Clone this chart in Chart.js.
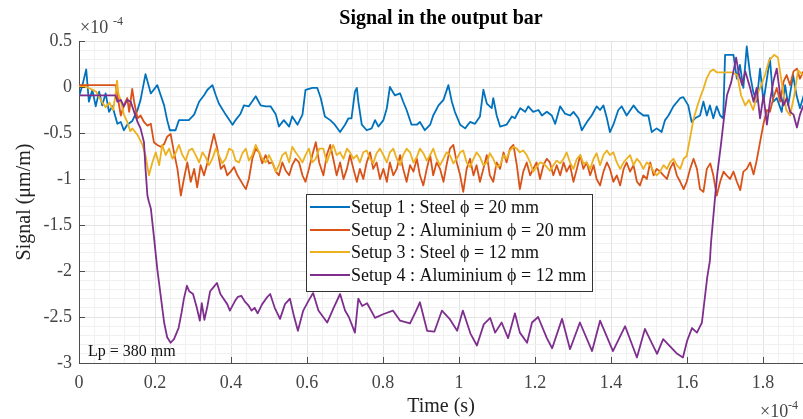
<!DOCTYPE html>
<html>
<head>
<meta charset="utf-8">
<script src="https://cdn.jsdelivr.net/npm/chart.js@4"></script>
<style>
  body { margin: 0; background: #fff; }
  canvas { display: block; }
</style>
</head>
<body>
<canvas id="signalChart" width="803" height="419"></canvas>
<script>
// time values are in units of 1e-4 s, signal in units of 1e-4 um/m
const setup1 = [
  [0,-0.1],[0.009,0.02],[0.019,0.19],[0.026,-0.16],[0.035,-0.03],[0.044,-0.21],[0.053,-0.05],[0.061,-0.2],[0.07,-0.07],[0.079,-0.27],
  [0.088,-0.21],[0.101,-0.4],[0.11,-0.38],[0.118,-0.47],[0.127,-0.41],[0.14,-0.37],[0.154,-0.25],[0.162,-0.14],[0.175,0.14],[0.189,-0.07],
  [0.206,0.02],[0.215,-0.09],[0.224,-0.2],[0.232,-0.36],[0.239,-0.47],[0.254,-0.47],[0.263,-0.36],[0.289,-0.36],[0.303,-0.3],[0.316,-0.16],
  [0.329,-0.09],[0.338,-0.03],[0.351,0.02],[0.36,-0.09],[0.368,-0.18],[0.386,-0.3],[0.404,-0.41],[0.412,-0.36],[0.425,-0.29],[0.434,-0.2],
  [0.447,-0.21],[0.465,-0.1],[0.478,-0.2],[0.491,-0.21],[0.504,-0.21],[0.518,-0.3],[0.526,-0.43],[0.539,-0.36],[0.553,-0.43],[0.561,-0.32],
  [0.575,-0.41],[0.588,-0.3],[0.596,-0.03],[0.614,-0.01],[0.627,-0.01],[0.636,-0.12],
  [0.647,-0.32],[0.661,-0.36],[0.673,-0.41],[0.687,-0.49],[0.7,-0.41],[0.709,-0.34],[0.717,-0.34],[0.726,-0.05],[0.731,-0.01],[0.735,-0.16],
  [0.744,-0.41],[0.757,-0.47],[0.77,-0.45],[0.779,-0.36],[0.788,-0.43],[0.801,-0.36],[0.81,-0.23],[0.818,0],[0.831,-0.09],[0.845,-0.07],
  [0.853,-0.16],[0.862,-0.25],[0.875,-0.41],[0.889,-0.41],[0.897,-0.38],[0.91,-0.47],[0.924,-0.41],[0.932,-0.31],[0.946,-0.2],[0.959,-0.14],
  [0.972,0.02],[0.981,-0.16],[0.989,-0.27],[1.003,-0.41],[1.016,-0.45],[1.029,-0.38],[1.042,-0.4],[1.055,-0.32],[1.064,-0.03],[1.073,-0.18],
  [1.086,-0.23],[1.09,-0.12],[1.099,-0.31],[1.108,-0.43],[1.125,-0.41],[1.139,-0.32],[1.147,-0.34],[1.161,-0.23],[1.174,-0.27],[1.182,-0.21],
  [1.195,-0.27],[1.209,-0.25],[1.218,-0.31],[1.231,-0.27],[1.244,-0.31],[1.253,-0.4],[1.266,-0.21],
  [1.279,-0.29],[1.292,-0.31],[1.301,-0.27],[1.314,-0.34],[1.323,-0.47],[1.332,-0.41],[1.34,-0.36],[1.349,-0.31],[1.362,-0.21],[1.371,-0.25],
  [1.38,-0.2],[1.389,-0.34],[1.397,-0.49],[1.406,-0.41],[1.419,-0.25],[1.428,-0.21],[1.441,-0.31],[1.459,-0.2],[1.472,-0.27],[1.485,-0.31],
  [1.498,-0.31],[1.507,-0.49],[1.52,-0.45],[1.533,-0.49],[1.542,-0.36],[1.551,-0.31],[1.564,-0.21],[1.582,-0.12],[1.59,-0.11],[1.603,-0.2],
  [1.612,-0.38],[1.621,-0.34],[1.634,-0.31],[1.643,-0.16],[1.652,-0.31],[1.66,-0.2],[1.669,-0.34],[1.678,-0.21],[1.687,-0.31],[1.695,-0.34],
  [1.7,0.35],[1.722,0.35],[1.731,0.09],[1.739,0.24],[1.748,-0.01],[1.757,0.44],[1.766,0.13],[1.774,-0.05],[1.783,-0.16],[1.792,0.2],
  [1.801,-0.16],[1.809,0.06],[1.818,0.31],[1.827,-0.16],[1.836,-0.12],[1.849,-0.27],[1.858,0.02],[1.866,-0.2],[1.879,0.13],[1.888,-0.09],
  [1.897,-0.23],[1.91,-0.05]
];
const setup2 = [
  [0,0.02],[0.096,0.02],[0.101,-0.09],[0.11,-0.31],[0.118,-0.2],[0.127,-0.12],[0.132,-0.27],[0.14,-0.02],[0.145,-0.16],[0.154,-0.34],
  [0.162,-0.31],[0.171,-0.38],[0.18,-0.42],[0.189,-0.4],[0.197,-0.6],[0.206,-0.63],[0.215,-0.65],[0.224,-0.62],[0.232,-0.54],[0.241,-0.51],
  [0.25,-0.71],[0.259,-0.89],[0.268,-1.18],[0.276,-1],[0.285,-0.82],[0.294,-1.03],[0.303,-0.89],[0.311,-1.09],[0.32,-0.85],[0.329,-0.96],
  [0.338,-0.82],[0.346,-0.67],[0.355,-0.51],[0.364,-0.67],[0.373,-0.89],[0.382,-0.85],[0.39,-0.96],[0.399,-0.92],[0.408,-0.87],[0.417,-0.96],
  [0.43,-1.05],[0.439,-1.11],[0.447,-1],[0.456,-0.78],[0.465,-0.67],[0.474,-0.71],[0.482,-0.83],[0.491,-0.74],[0.5,-0.83],[0.509,-0.82],
  [0.518,-0.92],[0.526,-0.96],[0.535,-0.82],[0.544,-0.91],[0.553,-0.96],[0.561,-0.85],[0.57,-0.78],[0.579,-0.82],[0.588,-0.96],[0.596,-1.03],
  [0.605,-0.89],[0.614,-0.74],[0.623,-0.6],[0.632,-0.82],
  [0.643,-0.96],[0.652,-0.74],[0.661,-0.63],[0.669,-0.78],[0.678,-0.96],[0.687,-0.82],[0.696,-1],[0.705,-0.89],[0.713,-0.74],[0.722,-0.89],
  [0.731,-1.03],[0.739,-0.89],[0.748,-1],[0.757,-0.82],[0.766,-0.71],[0.774,-0.89],[0.783,-0.82],[0.792,-1],[0.801,-0.89],[0.81,-1.03],
  [0.818,-0.82],[0.827,-0.96],[0.836,-0.89],[0.845,-0.74],[0.853,-0.89],[0.862,-1.03],[0.871,-0.85],[0.88,-0.92],[0.889,-0.78],[0.897,-0.96],
  [0.906,-1.07],[0.915,-0.89],[0.924,-0.74],[0.932,-0.96],[0.941,-0.82],[0.95,-0.89],[0.959,-1.03],[0.967,-0.85],[0.976,-0.67],[0.985,-0.63],
  [0.994,-0.82],[1.003,-0.96],[1.011,-1.14],[1.02,-0.89],[1.029,-0.78],[1.038,-0.96],[1.046,-0.85],[1.055,-1.03],[1.064,-0.89],[1.073,-0.74],
  [1.081,-0.96],[1.09,-1.03],[1.099,-0.82],[1.108,-0.89],[1.117,-0.71],[1.125,-0.82],[1.134,-0.67],[1.143,-0.63],[1.152,-0.85],[1.16,-1.11],
  [1.169,-0.92],[1.178,-0.82],[1.187,-0.96],[1.195,-0.89],[1.204,-0.82],[1.213,-1],[1.222,-0.85],[1.231,-0.78],[1.239,-0.82],[1.248,-0.96],
  [1.257,-0.85],[1.266,-0.96],
  [1.275,-0.82],[1.283,-0.92],[1.292,-0.85],[1.301,-1.03],[1.31,-0.89],[1.319,-0.74],[1.327,-0.89],[1.336,-0.82],[1.345,-0.96],[1.354,-0.85],
  [1.362,-1],[1.371,-1.07],[1.38,-0.92],[1.389,-0.82],[1.397,-0.89],[1.406,-1.03],[1.415,-0.96],[1.424,-1.07],[1.433,-0.89],[1.441,-0.82],
  [1.45,-0.92],[1.459,-0.85],[1.468,-1.03],[1.476,-1.07],[1.485,-0.96],[1.494,-1],[1.503,-0.82],[1.512,-0.96],[1.52,-0.89],[1.529,-0.92],
  [1.538,-0.96],[1.547,-1],[1.555,-0.89],[1.564,-0.82],[1.573,-0.96],[1.582,-1.03],[1.591,-1.11],[1.599,-1.03],[1.608,-0.89],[1.617,-0.78],
  [1.626,-0.89],[1.634,-1.11],[1.643,-1.14],[1.652,-0.89],[1.661,-0.83],[1.669,-0.96],[1.678,-1.18],[1.687,-1.03],[1.696,-0.92],[1.704,-0.96],
  [1.713,-1],[1.722,-0.92],[1.731,-1.03],[1.74,-1.12],[1.748,-0.92],[1.757,-0.89],[1.766,-0.82],[1.775,-0.95],[1.783,-0.8],[1.792,-0.6],
  [1.801,-0.4],[1.81,-0.25],[1.818,-0.27],[1.827,-0.12],[1.836,-0.01],[1.845,-0.16],[1.854,0.06],[1.862,0.13],[1.871,0.02],[1.88,0.17],
  [1.889,0.2],[1.897,0.09],[1.906,0.17]
];
const setup3 = [
  [0,0],[0.02,0],[0.045,-0.05],[0.06,-0.16],[0.07,-0.22],[0.08,-0.17],[0.09,-0.25],[0.097,-0.05],[0.1,0.07],[0.104,-0.08],
  [0.11,-0.15],[0.118,-0.3],[0.127,-0.38],[0.135,-0.48],[0.14,-0.45],[0.154,-0.52],[0.167,-0.63],[0.175,-0.74],[0.184,-0.96],[0.193,-0.82],
  [0.202,-0.71],[0.211,-0.85],[0.219,-0.63],[0.228,-0.74],[0.237,-0.67],[0.246,-0.78],[0.254,-0.72],[0.263,-0.63],[0.272,-0.74],[0.281,-0.8],
  [0.289,-0.69],[0.298,-0.67],[0.307,-0.74],[0.316,-0.82],[0.325,-0.71],[0.333,-0.76],[0.342,-0.85],[0.351,-0.78],[0.36,-0.67],[0.368,-0.74],
  [0.377,-0.83],[0.386,-0.78],[0.395,-0.67],[0.404,-0.69],[0.412,-0.8],[0.421,-0.82],[0.43,-0.72],[0.439,-0.67],[0.447,-0.8],[0.456,-0.74],
  [0.465,-0.63],[0.474,-0.71],[0.482,-0.78],[0.491,-0.82],[0.5,-0.74],[0.509,-0.82],[0.518,-0.92],[0.526,-0.85],[0.535,-0.74],[0.544,-0.71],
  [0.553,-0.82],[0.561,-0.65],[0.57,-0.71],[0.579,-0.76],[0.588,-0.82],[0.596,-0.74],[0.605,-0.67],[0.614,-0.82],[0.623,-0.78],[0.632,-0.67],
  [0.643,-0.67],[0.652,-0.82],[0.661,-0.71],[0.669,-0.63],[0.678,-0.74],[0.687,-0.71],[0.696,-0.78],[0.705,-0.67],[0.713,-0.71],[0.722,-0.78],
  [0.731,-0.74],[0.739,-0.82],[0.748,-0.71],[0.757,-0.69],[0.766,-0.78],[0.774,-0.83],[0.783,-0.72],[0.792,-0.67],[0.801,-0.74],[0.81,-0.82],
  [0.818,-0.71],[0.827,-0.67],[0.836,-0.78],[0.845,-0.85],[0.853,-0.74],[0.862,-0.67],[0.871,-0.71],[0.88,-0.82],[0.889,-0.76],[0.897,-0.67],
  [0.906,-0.72],[0.915,-0.8],[0.924,-0.74],[0.932,-0.67],[0.941,-0.78],[0.95,-0.85],[0.959,-0.78],[0.967,-0.71],[0.976,-0.74],[0.985,-0.83],
  [0.994,-0.78],[1.003,-0.71],[1.011,-0.69],[1.02,-0.82],[1.029,-0.87],[1.038,-0.78],[1.046,-0.71],[1.055,-0.76],[1.064,-0.85],[1.073,-0.82],
  [1.081,-0.72],[1.09,-0.78],[1.099,-0.87],[1.108,-0.85],[1.117,-0.74],[1.125,-0.78],[1.134,-0.69],[1.143,-0.65],[1.152,-0.67],[1.16,-0.71],
  [1.169,-0.69],[1.178,-0.74],[1.187,-0.82],[1.195,-0.92],[1.204,-0.87],[1.213,-0.82],[1.222,-0.83],[1.231,-0.87],[1.239,-0.91],[1.248,-0.85],
  [1.257,-0.8],[1.266,-0.83],[1.275,-0.78],[1.283,-0.71],[1.292,-0.82],[1.301,-0.89],[1.31,-0.78],[1.319,-0.74],[1.327,-0.83],[1.336,-0.82],
  [1.345,-0.89],[1.354,-0.78],[1.362,-0.72],[1.371,-0.85],[1.38,-0.74],[1.389,-0.69],[1.397,-0.74],[1.406,-0.71],[1.415,-0.82],[1.424,-0.89],
  [1.433,-0.82],[1.441,-0.78],[1.45,-0.74],[1.459,-0.85],[1.468,-0.78],[1.476,-0.82],[1.485,-0.89],[1.494,-0.82],[1.503,-0.85],[1.512,-0.92],
  [1.52,-0.96],[1.529,-0.92],[1.538,-0.85],[1.547,-0.89],[1.555,-0.82],[1.564,-0.78],[1.573,-0.85],[1.582,-0.89],[1.591,-0.78],[1.599,-0.75],
  [1.608,-0.55],[1.617,-0.35],[1.626,-0.22],[1.634,-0.12],[1.643,-0.02],[1.652,0.1],[1.661,0.17],[1.669,0.19],[1.678,0.16],[1.7,0.16],
  [1.718,0.16],[1.732,0.13],[1.742,-0.09],[1.753,-0.2],[1.763,-0.14],[1.774,-0.25],[1.784,-0.09],[1.795,0.02],[1.805,0.13],[1.816,0.29],
  [1.829,0.35],[1.839,0.32],[1.85,0.02],[1.861,-0.25],[1.871,-0.31],[1.882,-0.09],[1.892,0.18],[1.905,0.13]
];
const setup4 = [
  [0,-0.09],[0.096,-0.09],[0.101,-0.16],[0.11,-0.14],[0.118,-0.21],[0.127,-0.14],[0.136,-0.16],[0.145,-0.27],[0.154,-0.38],[0.162,-0.45],
  [0.171,-0.6],[0.175,-0.89],[0.18,-1.18],[0.184,-1.25],[0.189,-1.32],[0.197,-1.62],[0.206,-1.98],[0.215,-2.27],[0.224,-2.56],[0.232,-2.72],
  [0.241,-2.78],[0.25,-2.74],[0.262,-2.62],[0.27,-2.45],[0.276,-2.3],[0.284,-2.16],[0.29,-2.22],[0.3,-2.25],[0.31,-2.4],[0.318,-2.54],
  [0.323,-2.35],[0.33,-2.53],[0.338,-2.38],[0.345,-2.22],[0.353,-2.18],[0.363,-2.13],[0.372,-2.25],[0.38,-2.3],[0.39,-2.36],[0.397,-2.43],
  [0.41,-2.33],[0.418,-2.28],[0.427,-2.27],[0.436,-2.33],[0.445,-2.37],[0.454,-2.43],[0.462,-2.4],[0.47,-2.46],[0.482,-2.36],[0.494,-2.29],
  [0.503,-2.25],[0.515,-2.4],[0.529,-2.52],[0.542,-2.36],[0.555,-2.3],[0.565,-2.48],[0.576,-2.65],[0.59,-2.43],[0.603,-2.33],[0.616,-2.24],
  [0.63,-2.43],[0.653,-2.56],[0.67,-2.4],[0.687,-2.25],[0.7,-2.43],[0.71,-2.5],[0.726,-2.67],[0.735,-2.3],[0.745,-2.38],[0.758,-2.35],
  [0.779,-2.51],[0.8,-2.47],[0.826,-2.43],[0.845,-2.54],[0.871,-2.57],[0.885,-2.45],[0.897,-2.34],[0.916,-2.65],[0.935,-2.66],[0.955,-2.43],
  [0.975,-2.52],[0.995,-2.65],[1.01,-2.43],[1.03,-2.68],[1.047,-2.81],[1.065,-2.58],[1.082,-2.51],[1.095,-2.67],[1.112,-2.56],[1.129,-2.73],
  [1.147,-2.46],[1.16,-2.67],[1.179,-2.78],[1.192,-2.56],[1.208,-2.5],[1.231,-2.73],[1.245,-2.84],[1.271,-2.52],[1.292,-2.85],[1.318,-2.56],
  [1.35,-2.87],[1.371,-2.54],[1.405,-2.87],[1.437,-2.6],[1.468,-2.94],[1.489,-2.63],[1.521,-2.9],[1.537,-2.74],[1.574,-2.9],[1.589,-2.94],
  [1.6,-2.76],[1.613,-2.62],[1.626,-2.67],[1.639,-2.56],[1.653,-2.07],[1.66,-1.89],[1.663,-1.69],[1.671,-1.32],[1.679,-0.96],[1.689,-0.63],
  [1.697,-0.34],[1.705,-0.09],[1.716,0.05],[1.724,0.21],[1.729,0.32],[1.737,0.13],[1.745,0.02],[1.753,0.17],[1.766,-0.01],[1.775,-0.16],
  [1.783,-0.01],[1.792,-0.34],[1.801,-0.09],[1.81,-0.41],[1.818,-0.16],[1.827,0.06],[1.836,0.2],[1.845,-0.09],[1.854,-0.2],[1.862,-0.12],
  [1.871,-0.27],[1.88,-0.3],[1.889,-0.44],[1.897,-0.3],[1.906,-0.2]
];
const seriesNames = [
  'Setup 1 : Steel \u03d5 = 20 mm',
  'Setup 2 : Aluminium \u03d5 = 20 mm',
  'Setup 3 : Steel \u03d5 = 12 mm',
  'Setup 4 : Aluminium \u03d5 = 12 mm'
];
const xTickStep = 0.2;
const yTickStep = 0.5;

// matlab default line colours
const lineColors = ['#0072BD', '#D95319', '#EDB120', '#7E2F8E'];
const serif = "'Liberation Serif', 'Times New Roman', serif";
Chart.defaults.font.family = serif;

function isMajor(v, step) {
  return Math.abs(v / step - Math.round(v / step)) < 1e-6;
}

//legend drawn inside the plot like the matlab one
const boxLegend = {
  id: 'boxLegend',
  afterDatasetsDraw(chart) {
    const {ctx, chartArea} = chart;
    const x = chartArea.left + 227, y = chartArea.top + 153, w = 286, h = 97;
    ctx.save();
    ctx.fillStyle = '#fff';
    ctx.fillRect(x, y, w, h);
    ctx.strokeStyle = '#333';
    ctx.lineWidth = 1;
    ctx.strokeRect(x + 0.5, y + 0.5, w, h);
    ctx.font = '18px ' + serif;
    ctx.textBaseline = 'middle';
    chart.data.datasets.forEach((ds, i) => {
      const ry = Math.round(y + 13 + i * 22.7);
      ctx.strokeStyle = ds.borderColor;
      ctx.lineWidth = 1.8;
      ctx.beginPath();
      ctx.moveTo(x + 4, ry);
      ctx.lineTo(x + 44, ry);
      ctx.stroke();
      ctx.fillStyle = '#111';
      ctx.fillText(ds.label, x + 45, ry + 1);
    });
    ctx.restore();
  }
};

//inner tick marks, exponent labels and the Lp note
const extras = {
  id: 'extras',
  afterDraw(chart) {
    const {ctx, chartArea} = chart;
    const xs = chart.scales.x, ys = chart.scales.y;
    ctx.save();
    ctx.strokeStyle = '#4d4d4d';
    ctx.lineWidth = 1;
    ctx.beginPath();
    xs.ticks.forEach(t => {
      if (!t.label) return;
      const px = Math.round(xs.getPixelForValue(t.value)) + 0.5;
      ctx.moveTo(px, chartArea.bottom);
      ctx.lineTo(px, chartArea.bottom - 6);
    });
    ys.ticks.forEach(t => {
      if (!t.label) return;
      const py = Math.round(ys.getPixelForValue(t.value)) + 0.5;
      ctx.moveTo(chartArea.left, py);
      ctx.lineTo(chartArea.left + 6, py);
    });
    ctx.stroke();

    ctx.fillStyle = '#111';
    ctx.font = '16px ' + serif;
    ctx.textBaseline = 'alphabetic';
    ctx.fillText('Lp = 380 mm', chartArea.left + 9, chartArea.bottom - 7);

    ctx.fillStyle = '#444';
    ctx.font = '18px ' + serif;
    ctx.fillText('\u00d710', chartArea.left + 1, chartArea.top - 8);
    ctx.fillText('\u00d710', chartArea.right - 43, 417);
    ctx.font = '12px ' + serif;
    ctx.fillText('-4', chartArea.left + 34, chartArea.top - 16);
    ctx.fillText('-4', chartArea.right - 15, 409);
    ctx.restore();
  }
};

const allSeries = [setup1, setup2, setup3, setup4];
let signalChart = new Chart(document.getElementById('signalChart'), {
  type: 'line',
  data: {
    datasets: allSeries.map((s, i) => ({
      label: seriesNames[i],
      data: s.map(p => ({x: p[0], y: p[1]})),
      borderColor: lineColors[i],
      borderWidth: 1.8,
      pointRadius: 0,
      tension: 0,
      borderJoinStyle: 'round',
      order: 3 - i
    }))
  },
  options: {
    responsive: false,
    animation: false,
    layout: {padding: 0},
    plugins: {
      legend: {display: false},
      tooltip: {enabled: false},
      title: {
        display: true,
        text: 'Signal in the output bar',
        fullSize: false,
        color: '#000',
        font: {size: 20, weight: 'bold', family: serif},
        padding: {top: 7, bottom: 10}
      }
    },
    scales: {
      x: {
        type: 'linear',
        min: 0,
        max: 1.905,
        afterFit(scale) { scale.height = 56; },
        border: {display: true, color: '#4d4d4d', width: 1},
        grid: {
          drawTicks: false,
          color: ctx => isMajor(ctx.tick.value, xTickStep) ? '#e3e3e3' : '#f0f0f0'
        },
        ticks: {
          stepSize: 0.04,
          autoSkip: false,
          includeBounds: false,
          maxRotation: 0,
          padding: 9,
          color: '#444',
          font: {size: 18},
          callback: v => isMajor(v, xTickStep) ? String(Math.round(v * 10) / 10) : ''
        },
        title: {
          display: true,
          text: 'Time (s)',
          color: '#222',
          font: {size: 20},
          padding: {top: 0, bottom: 0}
        }
      },
      y: {
        min: -3,
        max: 0.5,
        afterFit(scale) { scale.width = 79; },
        border: {display: true, color: '#4d4d4d', width: 1},
        grid: {
          drawTicks: false,
          color: ctx => isMajor(ctx.tick.value, yTickStep) ? '#e3e3e3' : '#f0f0f0'
        },
        ticks: {
          stepSize: 0.1,
          autoSkip: false,
          padding: 7,
          color: '#444',
          font: {size: 18},
          callback: v => isMajor(v, yTickStep) ? String(Math.round(v * 10) / 10) : ''
        },
        title: {
          display: true,
          text: 'Signal (\u03bcm/m)',
          color: '#222',
          font: {size: 20},
          padding: {top: 13, bottom: 0}
        }
      }
    }
  },
  plugins: [boxLegend, extras]
});
</script>
</body>
</html>
